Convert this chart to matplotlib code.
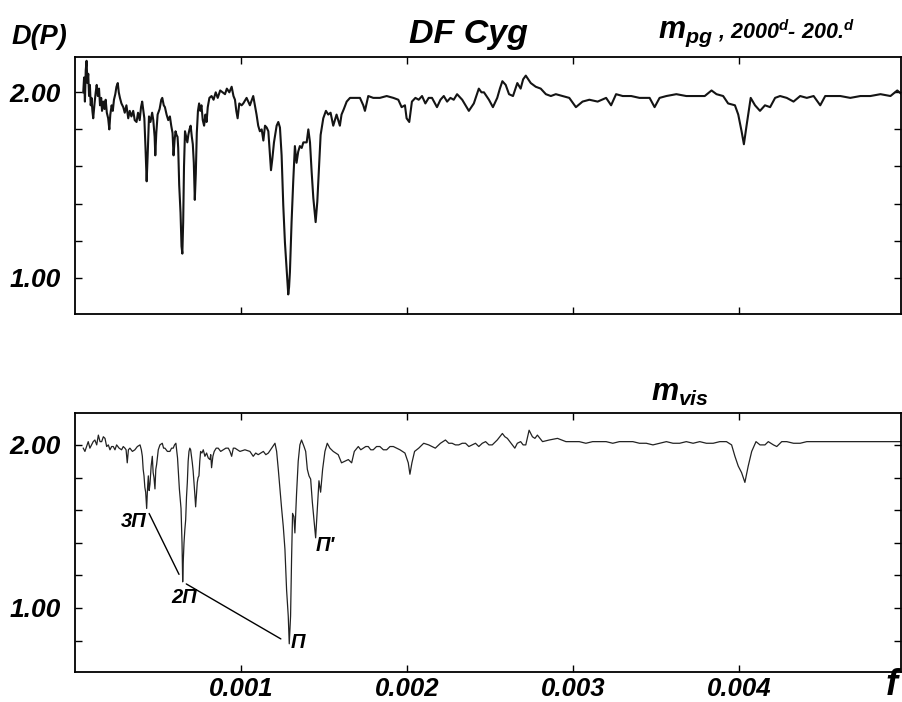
import numpy as np
import matplotlib
matplotlib.use('Agg')
import matplotlib.pyplot as plt

plt.rcParams['font.family'] = 'Liberation Sans'
plt.rcParams['font.weight'] = 'bold'
plt.rcParams['font.style'] = 'italic'
plt.rcParams['mathtext.fontset'] = 'custom'
plt.rcParams['mathtext.rm'] = 'Liberation Sans:bold:italic'
plt.rcParams['mathtext.it'] = 'Liberation Sans:bold:italic'
plt.rcParams['mathtext.bf'] = 'Liberation Sans:bold:italic'

# frequencies are given in units of 0.001
# upper panel: m_pg, 2000d - 200d
pg_f = [0.050, 0.055, 0.060, 0.065, 0.070, 0.075, 0.080, 0.085, 0.090, 0.095,
        0.100, 0.105, 0.110, 0.118, 0.125, 0.131, 0.138, 0.145, 0.151, 0.158,
        0.163, 0.170, 0.178, 0.185, 0.192, 0.200, 0.207, 0.213, 0.221, 0.228,
        0.235, 0.243, 0.250, 0.258, 0.264, 0.271, 0.280, 0.291, 0.300, 0.310,
        0.321, 0.330, 0.340, 0.351, 0.360, 0.371, 0.380, 0.390, 0.398, 0.405,
        0.412, 0.418, 0.425, 0.432, 0.438, 0.446, 0.455, 0.465, 0.472, 0.480,
        0.484, 0.490, 0.498, 0.510, 0.520, 0.526, 0.535, 0.542, 0.552, 0.562,
        0.572, 0.580, 0.588, 0.594, 0.600, 0.606, 0.612, 0.618, 0.622, 0.628,
        0.636, 0.642, 0.647, 0.652, 0.657, 0.663, 0.670, 0.677, 0.683, 0.690,
        0.697, 0.704, 0.710, 0.716, 0.722, 0.728, 0.734, 0.741, 0.748, 0.755,
        0.762, 0.770, 0.778, 0.786, 0.793, 0.800, 0.810, 0.823, 0.835, 0.848,
        0.860, 0.875, 0.890, 0.904, 0.915, 0.930, 0.944, 0.955, 0.964, 0.972,
        0.980, 0.990, 1.004,
        1.014, 1.034, 1.054, 1.074, 1.094, 1.104, 1.114, 1.125, 1.135, 1.145,
        1.155, 1.165, 1.175, 1.181, 1.189, 1.199, 1.215, 1.225, 1.235, 1.245,
        1.255, 1.265, 1.275, 1.280, 1.285, 1.290, 1.295, 1.305, 1.315, 1.325,
        1.335, 1.345, 1.355, 1.366, 1.376, 1.396, 1.406, 1.416, 1.426, 1.436,
        1.450, 1.460, 1.470, 1.480, 1.496, 1.512, 1.526, 1.540, 1.556, 1.566,
        1.576, 1.596, 1.606, 1.620, 1.637, 1.657, 1.687, 1.717, 1.737, 1.747,
        1.767, 1.797, 1.837, 1.878, 1.918, 1.948, 1.968, 1.988, 1.998,
        2.014, 2.030, 2.051, 2.071, 2.091, 2.111, 2.131, 2.151, 2.181, 2.202,
        2.222, 2.242, 2.262, 2.282, 2.302, 2.333, 2.353, 2.373, 2.403, 2.433,
        2.449, 2.464, 2.494, 2.518, 2.544, 2.560, 2.575, 2.595, 2.615, 2.639,
        2.665, 2.685, 2.700, 2.716, 2.746, 2.776, 2.806, 2.837, 2.867, 2.897,
        2.937, 2.978, 3.018, 3.058, 3.099, 3.149, 3.200, 3.230, 3.260, 3.300,
        3.351, 3.401, 3.462, 3.492, 3.522, 3.563, 3.623, 3.683, 3.744, 3.794,
        3.835, 3.865, 3.905, 3.935, 3.976, 3.996, 4.016, 4.030, 4.046, 4.071,
        4.097, 4.127, 4.157, 4.188, 4.218, 4.248, 4.288, 4.329, 4.369, 4.409,
        4.450, 4.490, 4.520, 4.571, 4.611, 4.671, 4.732, 4.792, 4.853, 4.913,
        4.954, 4.994]
pg_d = [2.00, 2.08, 1.95, 2.12, 2.17, 2.05, 2.10, 1.98, 2.04, 1.93,
        1.97, 1.90, 1.86, 1.94, 2.00, 2.04, 1.98, 2.02, 1.93, 1.97,
        1.90, 1.95, 1.91, 1.96, 1.89, 1.86, 1.80, 1.88, 1.93, 1.90,
        1.96, 1.99, 2.03, 2.05, 2.00, 1.97, 1.94, 1.92, 1.89, 1.93,
        1.86, 1.90, 1.87, 1.90, 1.85, 1.84, 1.89, 1.85, 1.92, 1.95,
        1.90, 1.86, 1.70, 1.52, 1.66, 1.87, 1.84, 1.89, 1.85, 1.76,
        1.66, 1.78, 1.88, 1.91, 1.96, 1.97, 1.93, 1.92, 1.88, 1.85,
        1.87, 1.82, 1.78, 1.66, 1.74, 1.79, 1.77, 1.76, 1.70, 1.50,
        1.35, 1.17, 1.13, 1.30, 1.60, 1.79, 1.76, 1.73, 1.77, 1.80,
        1.82, 1.76, 1.72, 1.62, 1.42, 1.56, 1.78, 1.90, 1.94, 1.90,
        1.93, 1.85, 1.82, 1.88, 1.84, 1.92, 1.97, 1.98, 1.96, 2.00,
        1.97, 2.01, 2.00, 1.99, 2.02, 2.00, 2.03, 1.98, 1.96, 1.90,
        1.86, 1.94, 1.93,
        1.94, 1.97, 1.93, 1.98, 1.88, 1.82, 1.79, 1.80, 1.74, 1.82,
        1.81, 1.79, 1.66, 1.58, 1.64, 1.73, 1.82, 1.84, 1.81, 1.66,
        1.39, 1.19, 1.05, 0.98, 0.91, 0.95, 1.03, 1.30, 1.52, 1.71,
        1.62, 1.68, 1.71, 1.70, 1.73, 1.73, 1.80, 1.73, 1.57, 1.43,
        1.30, 1.41, 1.59, 1.77, 1.86, 1.90, 1.88, 1.89, 1.82, 1.85,
        1.88, 1.82, 1.88, 1.91, 1.95, 1.97, 1.97, 1.97, 1.93, 1.90,
        1.98, 1.97, 1.97, 1.98, 1.97, 1.96, 1.92, 1.93, 1.86,
        1.84, 1.95, 1.97, 1.96, 1.98, 1.94, 1.97, 1.97, 1.92, 1.96,
        1.98, 1.95, 1.97, 1.96, 1.99, 1.96, 1.93, 1.90, 1.94, 2.02,
        2.00, 2.00, 1.96, 1.92, 1.97, 2.02, 2.06, 2.04, 1.99, 1.98,
        2.05, 2.02, 2.07, 2.09, 2.05, 2.03, 2.02, 1.99, 1.98, 1.99,
        1.98, 1.97, 1.92, 1.95, 1.96, 1.95, 1.97, 1.93, 1.99, 1.98,
        1.98, 1.97, 1.97, 1.92, 1.97, 1.98, 1.99, 1.98, 1.98, 1.98,
        2.01, 1.99, 1.98, 1.94, 1.93, 1.88, 1.79, 1.72, 1.82, 1.97,
        1.93, 1.90, 1.93, 1.92, 1.97, 1.98, 1.97, 1.95, 1.98, 1.97,
        1.98, 1.93, 1.98, 1.98, 1.98, 1.97, 1.98, 1.98, 1.99, 1.98,
        2.01, 1.98]

# lower panel: m_vis
vis_f = [0.050, 0.060, 0.070, 0.080, 0.090, 0.100, 0.110, 0.120, 0.131, 0.141,
         0.151, 0.161, 0.171, 0.181, 0.191, 0.201, 0.211, 0.221, 0.231, 0.241,
         0.251, 0.266, 0.281, 0.291, 0.301, 0.308, 0.315, 0.322, 0.331, 0.346,
         0.361, 0.376, 0.392, 0.400, 0.406, 0.411, 0.416, 0.421, 0.426, 0.432,
         0.437, 0.442, 0.447, 0.452, 0.459, 0.466, 0.471, 0.476, 0.482, 0.487,
         0.492, 0.502, 0.512, 0.526, 0.534, 0.542, 0.557, 0.572, 0.582, 0.592,
         0.600, 0.608, 0.618, 0.629, 0.639, 0.645, 0.649, 0.653, 0.657, 0.662,
         0.667, 0.672, 0.677, 0.682, 0.687, 0.692, 0.697, 0.702, 0.707, 0.712,
         0.717, 0.722, 0.727, 0.732, 0.737, 0.742, 0.747, 0.752, 0.757, 0.765,
         0.773, 0.783, 0.793, 0.803, 0.813, 0.818, 0.823, 0.831, 0.839, 0.851,
         0.863, 0.878, 0.894, 0.909, 0.924, 0.934, 0.944, 0.954, 0.964, 0.979,
         0.994,
         1.024, 1.054, 1.074, 1.089, 1.104, 1.120, 1.135, 1.150, 1.165, 1.185,
         1.205, 1.215, 1.225, 1.235, 1.245, 1.255, 1.265, 1.275, 1.285, 1.291,
         1.299, 1.305, 1.311, 1.319, 1.325, 1.335, 1.345, 1.355, 1.365, 1.380,
         1.390, 1.400, 1.410, 1.420, 1.430, 1.440, 1.450, 1.460, 1.470, 1.480,
         1.492, 1.506, 1.520, 1.536, 1.556, 1.571, 1.586, 1.606, 1.627, 1.647,
         1.667, 1.683, 1.707, 1.722, 1.737, 1.752, 1.767, 1.782, 1.797, 1.817,
         1.837, 1.858, 1.878, 1.898, 1.918, 1.938, 1.958, 1.988, 2.008,
         2.018, 2.030, 2.046, 2.071, 2.101, 2.131, 2.151, 2.171, 2.202, 2.232,
         2.252, 2.272, 2.292, 2.312, 2.333, 2.353, 2.373, 2.393, 2.413, 2.433,
         2.454, 2.474, 2.494, 2.514, 2.544, 2.575, 2.590, 2.605, 2.635, 2.650,
         2.665, 2.685, 2.700, 2.716, 2.736, 2.756, 2.771, 2.786, 2.817, 2.857,
         2.907, 2.958, 2.998, 3.038, 3.078, 3.119, 3.159, 3.200, 3.240, 3.280,
         3.321, 3.361, 3.401, 3.442, 3.482, 3.522, 3.563, 3.603, 3.643, 3.683,
         3.724, 3.764, 3.804, 3.845, 3.885, 3.925, 3.956, 3.976, 3.996, 4.016,
         4.036, 4.056, 4.077, 4.103, 4.127, 4.157, 4.177, 4.208, 4.228, 4.258,
         4.288, 4.329, 4.369, 4.409, 4.470, 4.530, 4.611, 4.712, 4.812, 4.913,
         4.994]
vis_d = [1.98, 1.96, 1.99, 2.02, 1.98, 2.00, 2.02, 2.03, 2.00, 2.06,
         2.02, 2.02, 2.05, 2.04, 1.99, 2.00, 1.97, 1.99, 1.99, 1.97,
         2.00, 1.98, 1.97, 1.99, 1.98, 1.97, 1.89, 1.97, 1.98, 1.96,
         1.97, 1.99, 2.00, 1.97, 1.93, 1.85, 1.81, 1.74, 1.71, 1.61,
         1.73, 1.81, 1.72, 1.76, 1.87, 1.93, 1.83, 1.80, 1.73, 1.85,
         1.88, 1.97, 2.00, 2.01, 1.98, 1.98, 1.96, 1.96, 1.98, 1.98,
         2.00, 2.01, 1.92, 1.73, 1.61, 1.40, 1.16, 1.30, 1.40, 1.48,
         1.54, 1.68, 1.77, 1.90, 1.96, 1.98, 1.97, 1.93, 1.89, 1.84,
         1.77, 1.70, 1.62, 1.70, 1.77, 1.80, 1.81, 1.90, 1.96, 1.95,
         1.97, 1.93, 1.95, 1.92, 1.91, 1.94, 1.86, 1.93, 1.96, 1.98,
         1.98, 1.96, 1.97, 1.98, 1.98, 1.96, 1.93, 1.98, 1.98, 1.97,
         1.96,
         1.97, 1.96, 1.93, 1.95, 1.94, 1.95, 1.96, 1.94, 1.95, 1.98,
         2.01, 1.96, 1.85, 1.73, 1.61, 1.50, 1.36, 1.11, 0.95, 0.78,
         0.95, 1.30, 1.58, 1.56, 1.46, 1.70, 1.90, 2.00, 2.03, 1.99,
         1.96, 1.85, 1.81, 1.79, 1.65, 1.54, 1.43, 1.61, 1.78, 1.71,
         1.85, 1.96, 2.01, 1.98, 1.96, 1.95, 1.94, 1.89, 1.90, 1.91,
         1.89, 1.96, 1.99, 1.97, 1.98, 1.99, 1.99, 1.97, 1.97, 1.99,
         1.99, 1.97, 1.97, 1.99, 1.99, 1.98, 1.97, 1.95, 1.89,
         1.82, 1.89, 1.96, 1.98, 2.01, 2.00, 1.99, 1.98, 2.01, 2.03,
         2.01, 2.01, 2.00, 2.00, 2.01, 2.01, 1.99, 2.00, 2.01, 1.99,
         2.01, 2.02, 2.00, 2.00, 2.03, 2.07, 2.05, 2.04, 2.00, 1.98,
         2.01, 2.02, 2.00, 2.00, 2.09, 2.05, 2.04, 2.06, 2.02, 2.03,
         2.04, 2.02, 2.02, 2.02, 2.01, 2.02, 2.02, 2.02, 2.01, 2.02,
         2.02, 2.02, 2.01, 2.01, 2.00, 2.01, 2.02, 2.01, 2.01, 2.02,
         2.01, 2.02, 2.01, 2.01, 2.02, 2.02, 2.00, 1.93, 1.87, 1.83,
         1.77, 1.87, 1.96, 2.02, 2.00, 2.00, 2.02, 2.00, 1.99, 2.02,
         2.02, 2.01, 2.01, 2.02, 2.02, 2.02, 2.02, 2.02, 2.02, 2.02,
         2.02]

x_ticks = [0.001, 0.002, 0.003, 0.004]
x_ticklabels = ['0.001', '0.002', '0.003', '0.004']
y_ticks = [1.0, 2.0]
y_ticklabels = ['1.00', '2.00']
pg_minor = [1.2, 1.4, 1.6, 1.8]
vis_minor = [0.8, 1.2, 1.4, 1.6, 1.8]

fig = plt.figure(figsize=(9.02, 7.02), dpi=100)
ax1 = fig.add_axes([0.0831, 0.5534, 0.9157, 0.3658])
ax2 = fig.add_axes([0.0831, 0.0432, 0.9157, 0.3681])

ax1.plot(np.array(pg_f) * 1e-3, pg_d, color='#141414', lw=1.5)
ax2.plot(np.array(vis_f) * 1e-3, vis_d, color='#222222', lw=0.9)

for ax, ylim, minor in [(ax1, (0.807, 2.192), pg_minor), (ax2, (0.609, 2.194), vis_minor)]:
    ax.set_xlim(0, 0.004976)
    ax.set_ylim(*ylim)
    ax.set_xticks(x_ticks)
    ax.set_yticks(y_ticks)
    ax.set_yticklabels(y_ticklabels)
    ax.set_yticks(minor, minor=True)
    ax.tick_params(which='both', direction='in', length=5, width=1.0,
                   top=True, right=True, labelsize=19, pad=10)
    for s in ax.spines.values():
        s.set_linewidth(1.3)

ax1.set_xticklabels([])
ax2.set_xticklabels(x_ticklabels)
ax2.tick_params(axis='x', pad=4, labelsize=18.5)

# connecting lines between the period harmonics
dip3 = (0.432e-3, 1.61)
dip2 = (0.649e-3, 1.16)
dip1 = (1.291e-3, 0.78)
ax2.annotate('', xy=dip2, xytext=dip3,
             arrowprops=dict(arrowstyle='-', color='black', lw=1.0, shrinkA=4, shrinkB=6))
ax2.annotate('', xy=dip1, xytext=dip2,
             arrowprops=dict(arrowstyle='-', color='black', lw=1.0, shrinkA=3, shrinkB=7))

lab_kw = dict(fontsize=14.5, ha='center', va='center')
ax2.text(0.352e-3, 1.53, '3П', **lab_kw)
ax2.text(0.657e-3, 1.067, '2П', **lab_kw)
ax2.text(1.343e-3, 0.787, 'П', **lab_kw)
ax2.text(1.506e-3, 1.384, "П'", **lab_kw)

fig.text(12 / 902, 1 - 44 / 702, 'D(P)', fontsize=19.5, ha='left', va='baseline')
fig.text(468 / 902, 1 - 43 / 702, 'DF Cyg', fontsize=24.5, ha='center', va='baseline')
fig.text(658 / 902, 1 - 38 / 702, r'$m_{pg}$', fontsize=22, ha='left', va='baseline')
fig.text(718 / 902, 1 - 38 / 702, r', 2000$^{d}$- 200.$^{d}$', fontsize=15.5, ha='left', va='baseline')
fig.text(680 / 902, 1 - 401 / 702, r'$m_{vis}$', fontsize=22, ha='center', va='baseline')
fig.text(886 / 902, 1 - 695 / 702, 'f', fontsize=26, ha='left', va='baseline')

fig.savefig('out.png', dpi=100)
